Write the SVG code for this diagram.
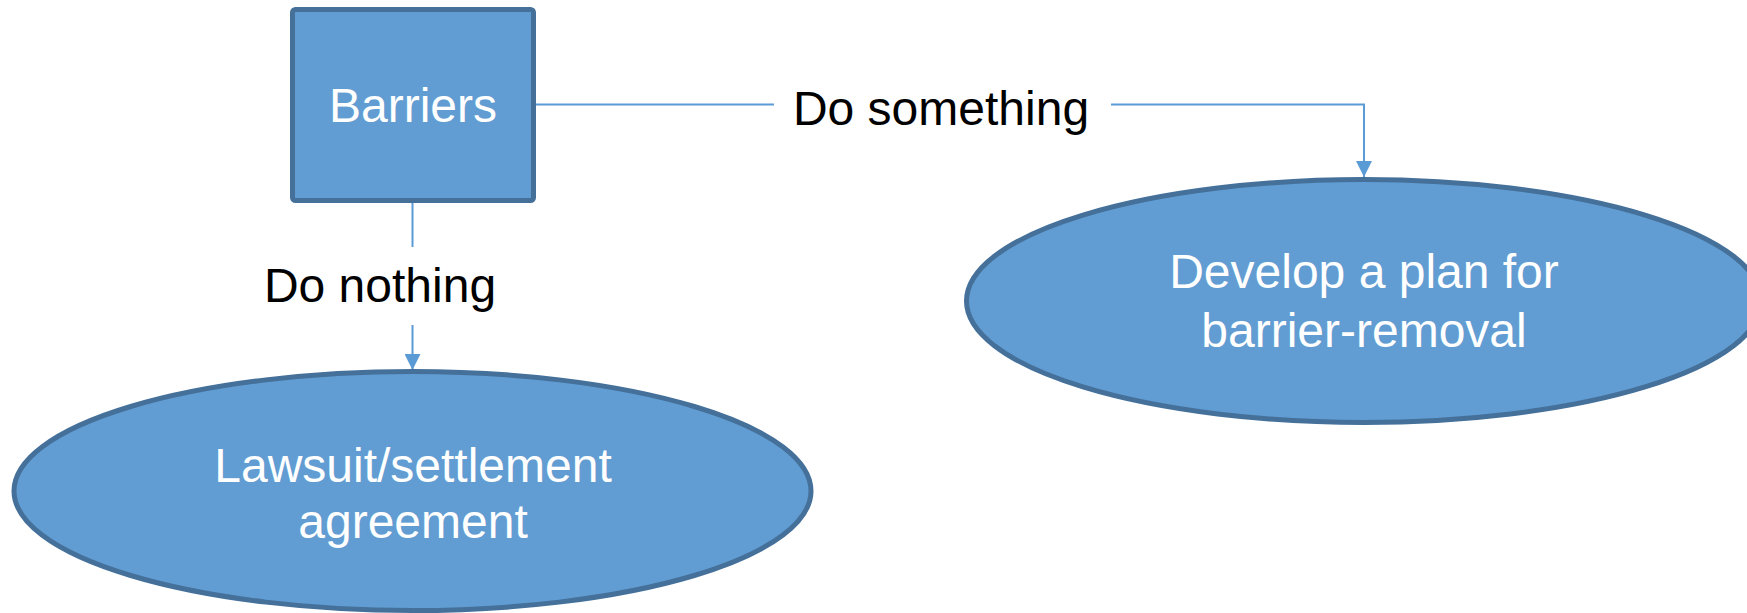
<svg xmlns="http://www.w3.org/2000/svg" width="1747" height="613" viewBox="0 0 1747 613">
  <style>
    .shape { fill: #619DD2; stroke: #44709A; stroke-width: 5; }
    .conn { fill: none; stroke: #5B9BD5; stroke-width: 2; }
    .ntext { font-family: "Liberation Sans", Arial, sans-serif; font-size: 48px; fill: #FFFFFF; text-anchor: middle; }
    .ltext { font-family: "Liberation Sans", Arial, sans-serif; font-size: 48px; fill: #000000; text-anchor: middle; }
  </style>
  <defs>
    <marker id="arrow" markerWidth="16" markerHeight="16" refX="16" refY="8" orient="auto" markerUnits="userSpaceOnUse">
      <path d="M0,0 L16,8 L0,16 Z" fill="#5B9BD5"/>
    </marker>
  </defs>
  <rect width="1747" height="613" fill="#FFFFFF"/>
  <g id="connectors">
    <line class="conn" x1="535" y1="104.5" x2="774" y2="104.5"/>
    <path class="conn" d="M1111,104.5 H1364 V177" marker-end="url(#arrow)"/>
    <line class="conn" x1="412.5" y1="202" x2="412.5" y2="247"/>
    <line class="conn" x1="412.5" y1="325" x2="412.5" y2="370" marker-end="url(#arrow)"/>
    <text class="ltext" x="941" y="125">Do something</text>
    <text class="ltext" x="380" y="302">Do nothing</text>
  </g>
  <g id="node-barriers">
    <rect class="shape" x="292.5" y="9.5" width="241" height="191" rx="3"/>
    <text class="ntext" x="413" y="122">Barriers</text>
  </g>
  <g id="node-lawsuit">
    <ellipse class="shape" cx="412.5" cy="491" rx="398.5" ry="119.5"/>
    <text class="ntext" x="413" y="482">Lawsuit/settlement</text>
    <text class="ntext" x="413" y="538">agreement</text>
  </g>
  <g id="node-plan">
    <ellipse class="shape" cx="1364" cy="301" rx="397.5" ry="121.5"/>
    <text class="ntext" x="1364" y="288">Develop a plan for</text>
    <text class="ntext" x="1364" y="347">barrier-removal</text>
  </g>
</svg>
